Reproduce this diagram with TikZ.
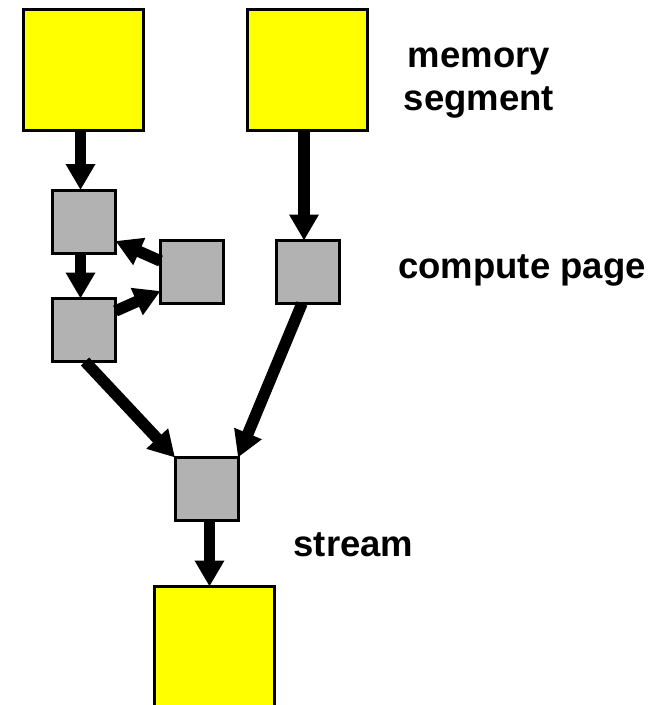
\documentclass[tikz,border=0pt]{standalone}
\usepackage{fontspec}
\setmainfont{Liberation Sans}
\usetikzlibrary{arrows.meta}
\definecolor{memyellow}{RGB}{255,255,0}
\definecolor{pagegray}{RGB}{178,178,178}
\begin{document}
\begin{tikzpicture}[x=1pt,y=-1pt,
  membox/.style={draw=black,line width=3pt,fill=memyellow,minimum width=120pt,minimum height=121pt,inner sep=0pt,outer sep=0pt},
  pagebox/.style={draw=black,line width=3pt,fill=pagegray,minimum width=63pt,minimum height=63pt,inner sep=0pt,outer sep=0pt},
  flow/.style={line width=11.5pt,-{Triangle[width=28pt,length=26pt]}},
  lbl/.style={font=\fontsize{36.5}{43}\selectfont\bfseries,inner sep=0pt,align=center}]
\useasboundingbox (0,0) rectangle (657,705);
\clip (0,0) rectangle (657,705);
% memory segments
\node[membox] (Y1) at (83.5,70) {};
\node[membox] (Y2) at (307.5,70) {};
\node[membox] (Y3) at (214,647) {};
% compute pages
\node[pagebox] (A) at (84,221.5) {};
\node[pagebox] (B) at (84,330) {};
\node[pagebox] (C) at (192,272) {};
\node[pagebox] (D) at (308,272) {};
\node[pagebox] (E) at (206.5,489) {};
% connectors
\draw[flow] (Y1.south -| 80.5,0) -- (A.north -| 80.5,0);
\draw[flow] (A.south -| 80.5,0) -- (B.north -| 80.5,0);
\draw[flow] (Y2.south -| 304,0) -- (D.north -| 304,0);
\draw[flow] (C.west |- 0,261) -- (A.east |- 0,241);
\draw[flow] (B.east |- 0,311) -- (C.west |- 0,291);
\draw[flow] (B.south -| 85,0) -- (E.north west);
\draw[flow] (D.south -| 302,0) -- (E.north east);
\draw[flow] (E.south -| 209.5,0) -- (Y3.north -| 209.5,0);
% labels
\node[lbl,anchor=base] (Lmem) at (479,110) {memory\\segment};
\node[lbl,anchor=base] (Lpage) at (522,278) {compute page};
\node[lbl,anchor=base] (Lstream) at (353.5,556) {stream};
\end{tikzpicture}
\end{document}
